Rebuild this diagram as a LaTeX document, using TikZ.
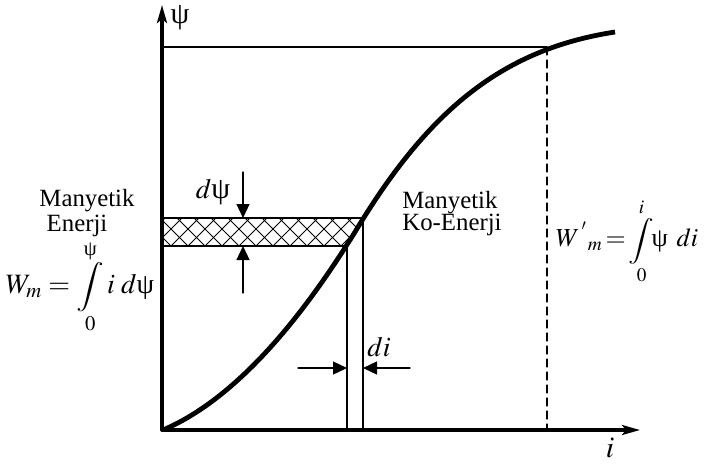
\documentclass[tikz,border=0pt]{standalone}
\usepackage{amsmath}
\usepackage{mathptmx}
\usepackage{fontspec}
\setmainfont{Liberation Serif}
\usetikzlibrary{arrows.meta,calc}
\usepackage{tkz-euclide}
\definecolor{CurveClr}{rgb}{0,0,0}
\definecolor{HatchClr}{rgb}{0,0,0}
\newcommand{\BigInt}{\mathop{\scalebox{1.1}[0.88]{$\displaystyle\int$}}\limits}

\begin{document}
\begin{tikzpicture}[x=.5pt,y=.5pt,
  txt/.style={font=\fontsize{12.4}{14}\selectfont,inner sep=0pt},
  formula/.style={font=\fontsize{14}{16}\selectfont,inner sep=0pt},
  tip/.style={line width=.6pt,-{Triangle[length=7pt,width=6.5pt]}}]
\useasboundingbox (0,0) rectangle (704,467);
\tkzSetUpLine[line width=.6pt,color=black]

\tkzDefPoints{162/37/O,640/37/X,162/462/Y}
\tkzDefPoints{162/420/H,547/420/P,547/37/Q}
\tkzDefPoints{162/249/A1,363/249/A2,162/221/B1,347/221/B2}
\tkzDefPoints{347/37/C1,363/37/C2}
\tkzDefPoints{243/295/D1,243/249/D2,243/174/E1,243/221/E2}
\tkzDefPoints{298/99/F1,347/99/F2,410/99/G1,363/99/G2}

% hatched strip
\begin{scope}
\clip (A1) -- (A2) -- (B2) -- (B1) -- cycle;
\foreach \x in {120,137,...,420}{
  \draw[line width=.5pt,color=HatchClr] (\x,221) -- ++(28,28) (\x,221) -- ++(-28,28);
}
\end{scope}

\tkzDrawSegments(H,P A1,A2 B1,B2 B2,C1 A2,C2)
\tkzDrawSegments[dashed,dash pattern=on 4pt off 2.5pt](P,Q)

\tkzDrawSegments[tip](D1,D2 E1,E2 F1,F2 G1,G2)

\tkzDrawSegments[line width=1.6pt,-{Stealth[length=9pt,width=5pt,inset=2pt]}](O,X O,Y)

\draw[line width=2.4pt,color=CurveClr] (163,37)
  .. controls (250,74) and (320,179) .. (355,235)
  .. controls (430,360) and (505,418) .. (615,435);

\node[txt] (psi) at (180,449) {\fontsize{15}{16}\selectfont ψ};
\node[txt] (iax) at (610,19) {\fontsize{15}{16}\selectfont$i$};
\node[formula] (dpsi) at (213,275) {$d$\fontsize{15}{16}\selectfont ψ};
\node[formula] (di) at (379,120) {$di$};

\node[txt] (me1) at (87,266) {Manyetik};
\node[txt] (en1) at (77,241) {Enerji};
\node[formula] (wm) at (80,180)
  {$W_m = \BigInt_0^{\text{ψ}} i\; d\text{ψ}$};

\node[txt,anchor=west] (me2) at (402,264) {Manyetik};
\node[txt,anchor=west] (ko2) at (402,242) {Ko-Enerji};
\node[formula,font=\fontsize{13}{15}\selectfont] (wmc) at (627,226)
  {$W^{\,'}{}_{m} \mkern-2mu=\mkern-2mu \BigInt_0^{i}\!\! \text{ψ}\;\, di$};

\end{tikzpicture}
\end{document}
